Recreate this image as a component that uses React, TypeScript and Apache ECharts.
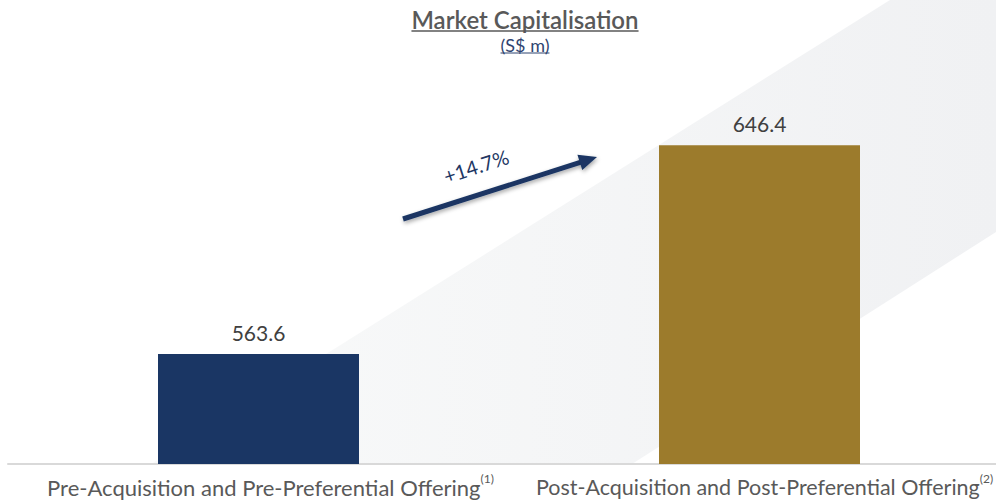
import React, { useEffect, useRef } from "react";
import * as echarts from "echarts";

const categories = [
  "Pre-Acquisition and Pre-Preferential Offering",
  "Post-Acquisition and Post-Preferential Offering",
];
const footnotes = ["(1)", "(2)"];
const values = [563.6, 646.4];
const barColors = ["#1a3664", "#9c7b2c"];
const titleText = "Market Capitalisation";
const unitText = "(S$ m)";

const FONT = "Lato, 'Noto Sans', sans-serif";

function measure(text: string, font: string): number {
  const c = document.createElement("canvas").getContext("2d");
  if (!c) return text.length * 10;
  c.font = font;
  return c.measureText(text).width;
}

export default function App() {
  const ref = useRef<HTMLDivElement>(null);
  useEffect(() => {
    if (!ref.current) return;
    const chart = echarts.init(ref.current, undefined, { renderer: "svg" });
    const growth = (values[1] / values[0] - 1) * 100;
    const growthText = `+${growth.toFixed(1)}%`;

    const titleFont = `600 24px Lato`;
    const unitFont = `18px Lato`;
    const titleW = measure(titleText, titleFont);
    const unitW = measure(unitText, unitFont);
    const cx = 525;

    // arrow geometry
    const x0 = 403, y0 = 219, x1 = 597, y1 = 157;
    const ang = Math.atan2(y1 - y0, x1 - x0);
    const headLen = 18, headHalf = 8;
    const bx = x1 - headLen * Math.cos(ang);
    const by = y1 - headLen * Math.sin(ang);
    const px = -Math.sin(ang), py = Math.cos(ang);
    const shadow = { shadowBlur: 4, shadowColor: "rgba(0,0,0,0.35)", shadowOffsetX: 1, shadowOffsetY: 2 };

    const mainStyle = (fontSize: number, padLeft: number) => ({
      fontSize,
      color: "#595959",
      fontFamily: FONT,
      verticalAlign: "bottom",
      lineHeight: 26,
      padding: [10, 0, 0, padLeft],
    });

    chart.setOption({
      animation: false,
      backgroundColor: "#ffffff",
      grid: {
        left: 8,
        width: 1002,
        top: 10,
        bottom: 39,
        containLabel: false,
        outerBoundsMode: "none",
      },
      xAxis: {
        type: "category",
        data: categories,
        axisLine: { show: true, lineStyle: { color: "#d9d9d9", width: 2 } },
        axisTick: { show: false },
        axisLabel: {
          interval: 0,
          margin: 8,
          hideOverlap: false,
          formatter: (v: string, i: number) => `{m${i}|${v}}{s|${footnotes[i]}}`,
          rich: {
            m0: mainStyle(22, 24),
            m1: mainStyle(21.5, 10),
            s: {
              fontSize: 12,
              color: "#595959",
              fontFamily: FONT,
              verticalAlign: "top",
              lineHeight: 14,
              padding: [0, 0, 0, 0],
            },
          },
        },
      },
      yAxis: { type: "value", min: 520, max: 700, show: false, splitLine: { show: false } },
      series: [
        {
          type: "bar",
          barWidth: 201,
          z: 5,
          data: values.map((v, i) => ({ value: v, itemStyle: { color: barColors[i] } })),
          label: {
            show: true,
            position: "top",
            distance: 11,
            fontSize: 21,
            fontFamily: FONT,
            color: "#404040",
            formatter: (p: any) => Number(p.value).toFixed(1),
          },
        },
      ],
      graphic: [
        {
          type: "polygon",
          z: -10,
          silent: true,
          shape: { points: [[151, 464], [890, 0], [996, 0], [996, 232], [632, 464]] },
          style: {
            fill: new echarts.graphic.LinearGradient(0, 0, 1, 0, [
              { offset: 0, color: "#f9fafa" },
              { offset: 1, color: "#f0f1f3" },
            ]),
          },
        },
        {
          type: "text",
          x: cx,
          y: 19,
          style: {
            text: titleText,
            font: titleFont,
            fill: "#595959",
            align: "center",
            verticalAlign: "middle",
          },
        },
        {
          type: "line",
          shape: { x1: cx - titleW / 2, y1: 31, x2: cx + titleW / 2, y2: 31 },
          style: { stroke: "#595959", lineWidth: 1.5 },
        },
        {
          type: "text",
          x: cx,
          y: 45,
          style: {
            text: unitText,
            font: unitFont,
            fill: "#2f4470",
            align: "center",
            verticalAlign: "middle",
          },
        },
        {
          type: "line",
          shape: { x1: cx - unitW / 2, y1: 53, x2: cx + unitW / 2, y2: 53 },
          style: { stroke: "#2f4470", lineWidth: 1 },
        },
        {
          type: "line",
          z: 100,
          shape: { x1: x0, y1: y0, x2: bx + 2 * Math.cos(ang), y2: by + 2 * Math.sin(ang) },
          style: { stroke: "#1a3664", lineWidth: 5, ...shadow },
        },
        {
          type: "polygon",
          z: 100,
          shape: {
            points: [
              [x1, y1],
              [bx + px * headHalf, by + py * headHalf],
              [bx - px * headHalf, by - py * headHalf],
            ],
          },
          style: { fill: "#1a3664", ...shadow },
        },
        {
          type: "text",
          z: 100,
          x: 476,
          y: 166,
          rotation: (18 * Math.PI) / 180,
          style: {
            text: growthText,
            font: `20px Lato`,
            fill: "#1f3864",
            align: "center",
            verticalAlign: "middle",
          },
        },
      ],
    });
    return () => chart.dispose();
  }, []);
  return (
    <div
      ref={ref}
      style={{ position: "fixed", left: 0, top: 0, width: 996, height: 503 }}
    />
  );
}
